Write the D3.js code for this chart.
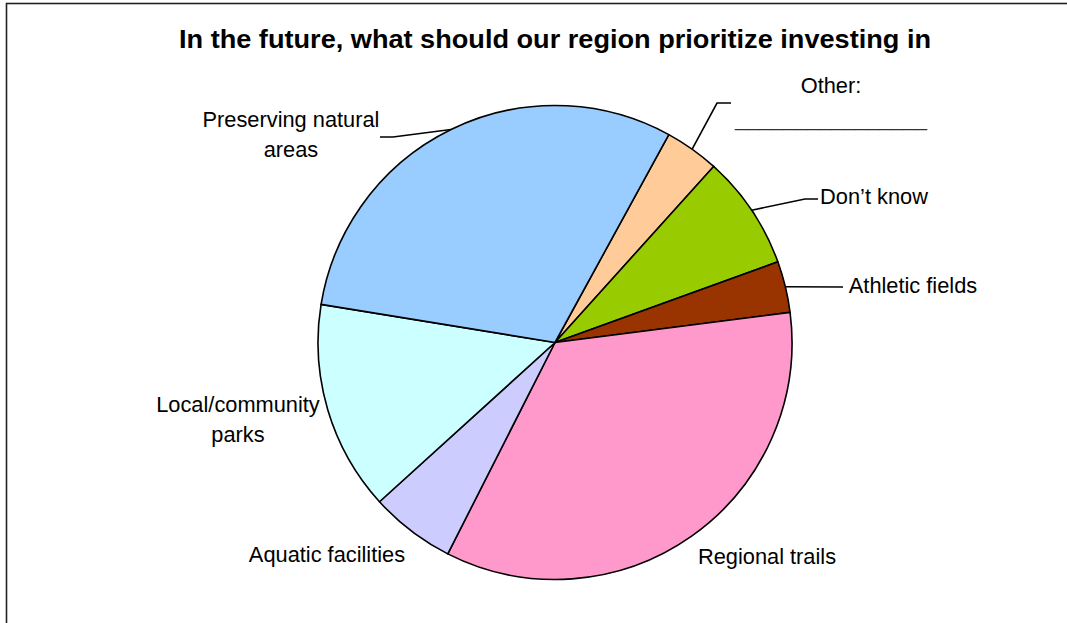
<!DOCTYPE html>
<html>
<head>
<meta charset="utf-8">
<script src="https://cdn.jsdelivr.net/npm/d3@7"></script>
<style>
  html, body { margin: 0; padding: 0; background: #fff; }
  svg { display: block; }
  text { font-family: "Liberation Sans", Arial, sans-serif; fill: #000; }
</style>
</head>
<body>
<svg id="chart" width="1067" height="623"></svg>
<script>
// ---- data ----
const title = "In the future, what should our region prioritize investing in";
const categories = ["Other:", "Don\u2019t know", "Athletic fields", "Regional trails",
                    "Aquatic facilities", "Local/community parks", "Preserving natural areas"];
const values = [3.7, 7.8, 3.5, 34.5, 5.8, 14.3, 30.4];
const colors = ["#FFCC99", "#99CC00", "#993300", "#FF99CC", "#CCCCFF", "#CCFFFF", "#99CCFF"];

// label layout: lines, anchor x, first baseline y, leader elbow points (null = no leader)
const labelLayout = [
  { lines: ["Other:", "________________"], x: 831, y: 93, leader: [[717, 103], [731, 103]] },
  { lines: ["Don\u2019t know"], x: 874, y: 204, leader: [[805, 199], [818, 199]] },
  { lines: ["Athletic fields"], x: 913, y: 293, leader: [[843, 287]] },
  { lines: ["Regional trails"], x: 767, y: 564, leader: null },
  { lines: ["Aquatic facilities"], x: 327, y: 562, leader: null },
  { lines: ["Local/community", "parks"], x: 238, y: 412, leader: null },
  { lines: ["Preserving natural", "areas"], x: 291, y: 127, leader: [[393, 137], [380, 137]] }
];

const W = 1067, H = 623;
const cx = 555, cy = 342.5, R = 237;
const startDeg = 28.7;

const svg = d3.select("#chart");

// chart border (extends beyond right/bottom edges)
svg.append("rect")
  .attr("x", 6.5).attr("y", 3.5)
  .attr("width", W + 20).attr("height", H + 20)
  .attr("fill", "#fff")
  .attr("stroke", "#222").attr("stroke-width", 1.6);

svg.append("text")
  .attr("x", cx).attr("y", 48)
  .attr("text-anchor", "middle")
  .attr("font-size", 25).attr("font-weight", "bold")
  .attr("textLength", 752).attr("lengthAdjust", "spacingAndGlyphs")
  .text(title);

const data = categories.map((c, i) => ({ name: c, value: values[i], color: colors[i], layout: labelLayout[i] }));

const start = startDeg * Math.PI / 180;
const pie = d3.pie().sort(null).value(d => d.value)
  .startAngle(start).endAngle(start + 2 * Math.PI);
const arcs = pie(data);
const arc = d3.arc().innerRadius(0).outerRadius(R);

const g = svg.append("g").attr("transform", `translate(${cx},${cy})`);
g.selectAll("path.slice").data(arcs).enter().append("path")
  .attr("class", "slice")
  .attr("d", arc)
  .attr("fill", d => d.data.color)
  .attr("stroke", "#000").attr("stroke-width", 1.6)
  .attr("stroke-linejoin", "round");

// leader lines
arcs.forEach(a => {
  const L = a.data.layout;
  if (!L.leader) return;
  const mid = (a.startAngle + a.endAngle) / 2;
  const p0 = [cx + R * Math.sin(mid), cy - R * Math.cos(mid)];
  const pts = [p0].concat(L.leader);
  svg.append("path")
    .attr("d", d3.line()(pts))
    .attr("fill", "none").attr("stroke", "#000").attr("stroke-width", 1.6);
});

// labels
arcs.forEach(a => {
  const L = a.data.layout;
  const t = svg.append("text")
    .attr("text-anchor", "middle")
    .attr("font-size", 21.8);
  L.lines.forEach((ln, i) => {
    const ts = t.append("tspan").attr("x", L.x).attr("y", L.y + i * 30).text(ln);
    if (/^_+$/.test(ln)) {
      ts.attr("y", L.y + 33).attr("textLength", 192).attr("lengthAdjust", "spacingAndGlyphs")
        .attr("fill", "#333");
    }
  });
});
</script>
</body>
</html>
